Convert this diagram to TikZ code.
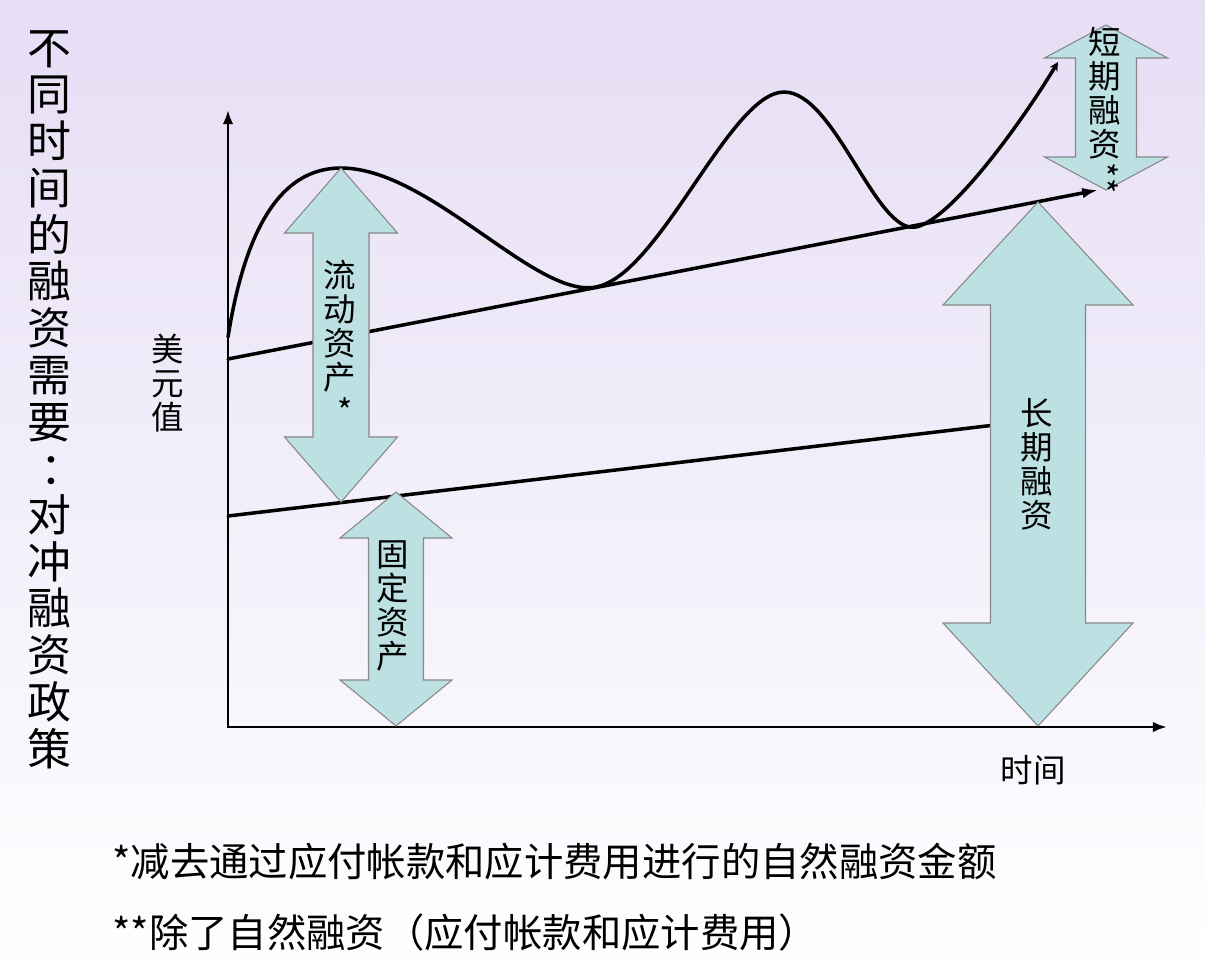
\documentclass[tikz,border=0pt]{standalone}
\usepackage{fontspec}
\setmainfont{Noto Sans CJK SC}
\usetikzlibrary{arrows.meta}
\definecolor{bgtop}{RGB}{230,222,245}
\definecolor{arrowfill}{RGB}{189,224,226}
\definecolor{arrowline}{RGB}{135,135,135}
\tikzset{
  blockarrow/.style={fill=arrowfill,draw=arrowline,line width=0.6pt,line join=miter},
  vlabel/.style={align=center,inner sep=0pt,anchor=north,font=\fontsize{18.5}{19.4}\selectfont},
  noteline/.style={anchor=west,inner sep=0pt,font=\fontsize{22.4}{26}\selectfont},
  curveline/.style={line width=2pt,line cap=round},
  axisline/.style={line width=1.7pt,{Latex[length=8pt,width=6pt]}-{Latex[length=8pt,width=6pt]}}
}
\begin{document}
\begin{tikzpicture}[x=0.02cm,y=-0.02cm]
  \useasboundingbox (0,0) rectangle (1205,977);
  \shade[top color=bgtop,bottom color=white] (0,0) rectangle (1205,977);

  \coordinate (O) at (228,727);
  \coordinate (ytop) at (228,110);
  \coordinate (xend) at (1167,727);
  \coordinate (upstart) at (228,359);
  \coordinate (upend) at (1098,190);
  \coordinate (lowstart) at (228,516);
  \coordinate (lowend) at (995,425);
  \coordinate (cstart) at (228,337);
  \coordinate (cend) at (1058,62);

  \draw[axisline] (ytop) -- (O) -- (xend);
  \draw[curveline,-{Latex[length=9pt,width=6pt]}] (upstart) -- (upend);
  \draw[curveline] (lowstart) -- (lowend);
  \draw[curveline,-{Stealth[length=5pt,width=5pt]}] (cstart)
    .. controls (245,230) and (280,168) .. (341,168)
    .. controls (430,168) and (536,299) .. (596,287)
    .. controls (660,275) and (730,92) .. (784,92)
    .. controls (835,92) and (876,235) .. (916,227)
    .. controls (950,220) and (1018,128) .. (cend);

  \foreach \x/\t/\b/\hw/\sw/\hh in {341/168/502/56.5/28/65, 396/492/726/56/27.5/46,
      1038/202/726/95/47.5/103, 1106/25/190/61.5/30.5/33}
    \filldraw[blockarrow] (\x,\t) -- (\x+\hw,\t+\hh) -- (\x+\sw,\t+\hh) -- (\x+\sw,\b-\hh)
      -- (\x+\hw,\b-\hh) -- (\x,\b) -- (\x-\hw,\b-\hh) -- (\x-\sw,\b-\hh)
      -- (\x-\sw,\t+\hh) -- (\x-\hw,\t+\hh) -- cycle;

  \node[vlabel,font=\fontsize{25}{26.6}\selectfont] (title) at (49,30)
    {不\\同\\时\\间\\的\\融\\资\\需\\要\\\hspace*{0.6em}：\\对\\冲\\融\\资\\政\\策};
  \node[vlabel] (value) at (168,334) {美\\元\\值};
  \node[vlabel] (current) at (340,260) {流\\动\\资\\产\\\hspace*{0.3em}*};
  \node[vlabel] (fixed) at (393,540) {固\\定\\资\\产};
  \node[vlabel] (longterm) at (1037,398) {长\\期\\融\\资};
  \node[vlabel] (shortterm) at (1105,27) {短\\期\\融\\资\\\rotatebox[origin=c]{-90}{**}};
  \node[font=\fontsize{18.5}{20}\selectfont] (time) at (1033,770) {时间};
  \node[noteline] (note1) at (112,862) {*减去通过应付帐款和应计费用进行的自然融资金额};
  \node[noteline] (note2) at (112,933) {**除了自然融资（应付帐款和应计费用）};
\end{tikzpicture}
\end{document}
